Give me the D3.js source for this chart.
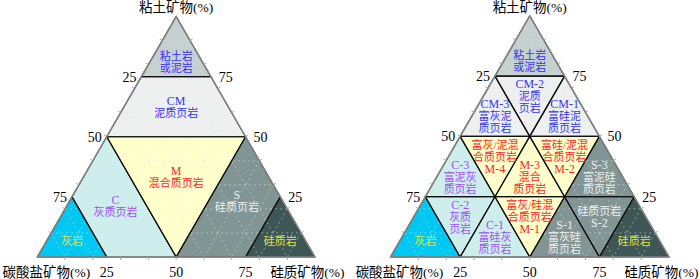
<!DOCTYPE html>
<html>
<head>
<meta charset="utf-8">
<script src="https://cdn.jsdelivr.net/npm/d3@7"></script>
<style>
body { margin: 0; background: #fff; }
text { font-family: "Liberation Serif", "Noto Sans CJK SC", serif; }
</style>
</head>
<body>
<svg id="chart" width="700" height="279"></svg>
<script>
// axis titles: top, bottom-left, bottom-right
var axisTitles = ["粘土矿物(%)", "碳酸盐矿物(%)", "硅质矿物(%)"];
var tickValues = [25, 50, 75];
var gridValues = [10, 20, 30, 40, 50, 60, 70, 80, 90];

// region corners as [clay, carbonate, silica] %
var leftRegions = [
	{id: "clay", kind: "clay", pts: [[100,0,0],[75,25,0],[75,0,25]], lines: ["粘土岩","或泥岩"]},
	{id: "CM", kind: "cm", pts: [[75,25,0],[50,50,0],[50,0,50],[75,0,25]], lines: ["CM","泥质页岩"]},
	{id: "M", kind: "m", pts: [[50,50,0],[50,0,50],[0,50,50]], lines: ["M","混合质页岩"]},
	{id: "C", kind: "c", pts: [[50,50,0],[25,75,0],[0,75,25],[0,50,50]], lines: ["C","灰质页岩"]},
	{id: "lime", kind: "lime", pts: [[25,75,0],[0,100,0],[0,75,25]], lines: ["灰岩"]},
	{id: "S", kind: "s", pts: [[50,0,50],[0,50,50],[0,25,75],[25,0,75]], lines: ["S","硅质页岩"]},
	{id: "sil", kind: "sil", pts: [[25,0,75],[0,25,75],[0,0,100]], lines: ["硅质岩"]}
];

var rightRegions = [
	{id: "clay", kind: "clay", pts: [[100,0,0],[75,25,0],[75,0,25]], lines: ["粘土岩","或泥岩"]},
	{id: "CM-3", kind: "cm", pts: [[75,25,0],[50,50,0],[50,25,25]], lines: ["CM-3","富灰泥","质页岩"]},
	{id: "CM-2", kind: "cm", pts: [[75,25,0],[75,0,25],[50,25,25]], lines: ["CM-2","泥质","页岩"]},
	{id: "CM-1", kind: "cm", pts: [[75,0,25],[50,25,25],[50,0,50]], lines: ["CM-1","富硅泥","质页岩"]},
	{id: "M-4", kind: "m", pts: [[50,50,0],[50,25,25],[25,50,25]], lines: ["富灰/泥混","合质页岩","M-4"]},
	{id: "M-2", kind: "m", pts: [[50,25,25],[50,0,50],[25,25,50]], lines: ["富硅/泥混","合质页岩","M-2"]},
	{id: "M-3", kind: "m", pts: [[50,25,25],[25,50,25],[25,25,50]], lines: ["M-3","混合","质页岩"]},
	{id: "M-1", kind: "m", pts: [[25,50,25],[25,25,50],[0,50,50]], lines: ["富灰/硅混","合质页岩","M-1"]},
	{id: "C-3", kind: "c", pts: [[50,50,0],[25,75,0],[25,50,25]], lines: ["C-3","富泥灰","质页岩"]},
	{id: "C-2", kind: "c", pts: [[25,75,0],[25,50,25],[0,75,25]], lines: ["C-2","灰质","页岩"]},
	{id: "C-1", kind: "c", pts: [[25,50,25],[0,75,25],[0,50,50]], lines: ["C-1","富硅灰","质页岩"]},
	{id: "lime", kind: "lime", pts: [[25,75,0],[0,100,0],[0,75,25]], lines: ["灰岩"]},
	{id: "S-3", kind: "s", pts: [[50,0,50],[25,25,50],[25,0,75]], lines: ["S-3","富泥硅","质页岩"]},
	{id: "S-2", kind: "s", pts: [[25,25,50],[25,0,75],[0,25,75]], lines: ["硅质页岩","S-2"]},
	{id: "S-1", kind: "s", pts: [[25,25,50],[0,50,50],[0,25,75]], lines: ["S-1","富灰硅","质页岩"]},
	{id: "sil", kind: "sil", pts: [[25,0,75],[0,25,75],[0,0,100]], lines: ["硅质岩"]}
];

var fills = {clay: "#c6d0d0", cm: "#eef0f0", m: "#ffffcc", c: "#cdeeec", lime: "#00c8f2", s: "#819595", sil: "#3e5656"};
var inks = {clay: "#3434ee", cm: "#3434ee", m: "#ff2424", c: "#a04ef0", lime: "#e2e03a", s: "#eef0f0", sil: "#e2e03a"};
// small label shifts (px) where the centre of the corners sits off the text
var nudge = {clay: 5, C: -6, S: -11, lime: 4, sil: 4};

var svg = d3.select("#chart");

function ternary(x0, x1, regions) {
	var base = 257;
	var h = (x1 - x0) * Math.sqrt(3) / 2;
	var sx = d3.scaleLinear().domain([0, 100]).range([x0, x1]);
	var sy = d3.scaleLinear().domain([0, 100]).range([base, base - h]);
	function P(p) { return [sx(p[2] + p[0] / 2), sy(p[0])]; }

	var g = svg.append("g");

	g.selectAll("polygon.region")
		.data(regions)
		.enter().append("polygon")
		.attr("class", "region")
		.attr("points", function(d) { return d.pts.map(P).join(" "); })
		.style("fill", function(d) { return fills[d.kind]; });

	// dashed grid every 10 %
	var grid = [];
	gridValues.forEach(function(v) {
		grid.push([[v, 100 - v, 0], [v, 0, 100 - v]]);
		grid.push([[100 - v, v, 0], [0, v, 100 - v]]);
		grid.push([[100 - v, 0, v], [0, 100 - v, v]]);
	});
	g.selectAll("line.grid")
		.data(grid)
		.enter().append("line")
		.attr("x1", function(d) { return P(d[0])[0]; })
		.attr("y1", function(d) { return P(d[0])[1]; })
		.attr("x2", function(d) { return P(d[1])[0]; })
		.attr("y2", function(d) { return P(d[1])[1]; })
		.style("stroke", "#dfe5e5")
		.style("stroke-opacity", 0.6)
		.style("stroke-width", 0.8)
		.style("stroke-dasharray", "2,3");

	g.selectAll("polygon.edge")
		.data(regions)
		.enter().append("polygon")
		.attr("class", "edge")
		.attr("points", function(d) { return d.pts.map(P).join(" "); })
		.style("fill", "none")
		.style("stroke", "#111")
		.style("stroke-width", 1.2)
		.style("stroke-linejoin", "round");

	g.append("polygon")
		.attr("points", [[100,0,0],[0,100,0],[0,0,100]].map(P).join(" "))
		.style("fill", "none")
		.style("stroke", "#8a8a8a")
		.style("stroke-width", 1.4);

	// small ticks on the outer edges
	var ticks = [];
	gridValues.forEach(function(v) {
		ticks.push({p: [0, 100 - v, v], dx: 0, dy: 1});
		ticks.push({p: [v, 100 - v, 0], dx: -0.866, dy: -0.5});
		ticks.push({p: [v, 0, 100 - v], dx: 0.866, dy: -0.5});
	});
	g.selectAll("line.tick")
		.data(ticks)
		.enter().append("line")
		.attr("x1", function(d) { return P(d.p)[0]; })
		.attr("y1", function(d) { return P(d.p)[1]; })
		.attr("x2", function(d) { return P(d.p)[0] + d.dx * 3; })
		.attr("y2", function(d) { return P(d.p)[1] + d.dy * 3; })
		.style("stroke", "#9aa")
		.style("stroke-width", 1);

	// region labels
	g.selectAll("text.region")
		.data(regions)
		.enter().append("text")
		.attr("class", "region")
		.attr("text-anchor", "middle")
		.style("font-size", "11px")
		.style("fill", function(d) { return inks[d.kind]; })
		.each(function(d) {
			var xs = d.pts.map(P);
			var cx = d3.mean(xs, function(q) { return q[0]; });
			var cy = d3.mean(xs, function(q) { return q[1]; }) + (nudge[d.id] || 0);
			var n = d.lines.length;
			d3.select(this).selectAll("tspan")
				.data(d.lines)
				.enter().append("tspan")
				.attr("x", cx)
				.attr("y", function(t, i) { return cy + (i - (n - 1) / 2) * 12 + 4; })
				.style("font-size", function(t) { return /^[A-Z]/.test(t) ? "12px" : null; })
				.text(function(t) { return t; });
		});

	// tick labels
	tickValues.forEach(function(v) {
		var l = P([100 - v, v, 0]);
		g.append("text").attr("x", l[0] - 5).attr("y", l[1] + 5)
			.attr("text-anchor", "end").style("font-size", "14px").text(v);
		var r = P([v, 0, 100 - v]);
		g.append("text").attr("x", r[0] + 8).attr("y", r[1] + 5)
			.attr("text-anchor", "start").style("font-size", "14px").text(v);
		var b = P([0, 100 - v, v]);
		g.append("text").attr("x", b[0]).attr("y", 277)
			.attr("text-anchor", "middle").style("font-size", "14px").text(v);
	});

	// axis titles
	var top = P([100, 0, 0]);
	g.append("text").attr("x", top[0]).attr("y", 12)
		.attr("text-anchor", "middle").style("font-size", "13.5px").text(axisTitles[0]);
	g.append("text").attr("x", x0 + 9).attr("y", 277)
		.attr("text-anchor", "middle").style("font-size", "13.5px").text(axisTitles[1]);
	g.append("text").attr("x", x1 - 7.5).attr("y", 277)
		.attr("text-anchor", "middle").style("font-size", "13.5px").text(axisTitles[2]);
}

ternary(37.3, 315, leftRegions);
ternary(390.5, 669, rightRegions);
</script>
</body>
</html>
